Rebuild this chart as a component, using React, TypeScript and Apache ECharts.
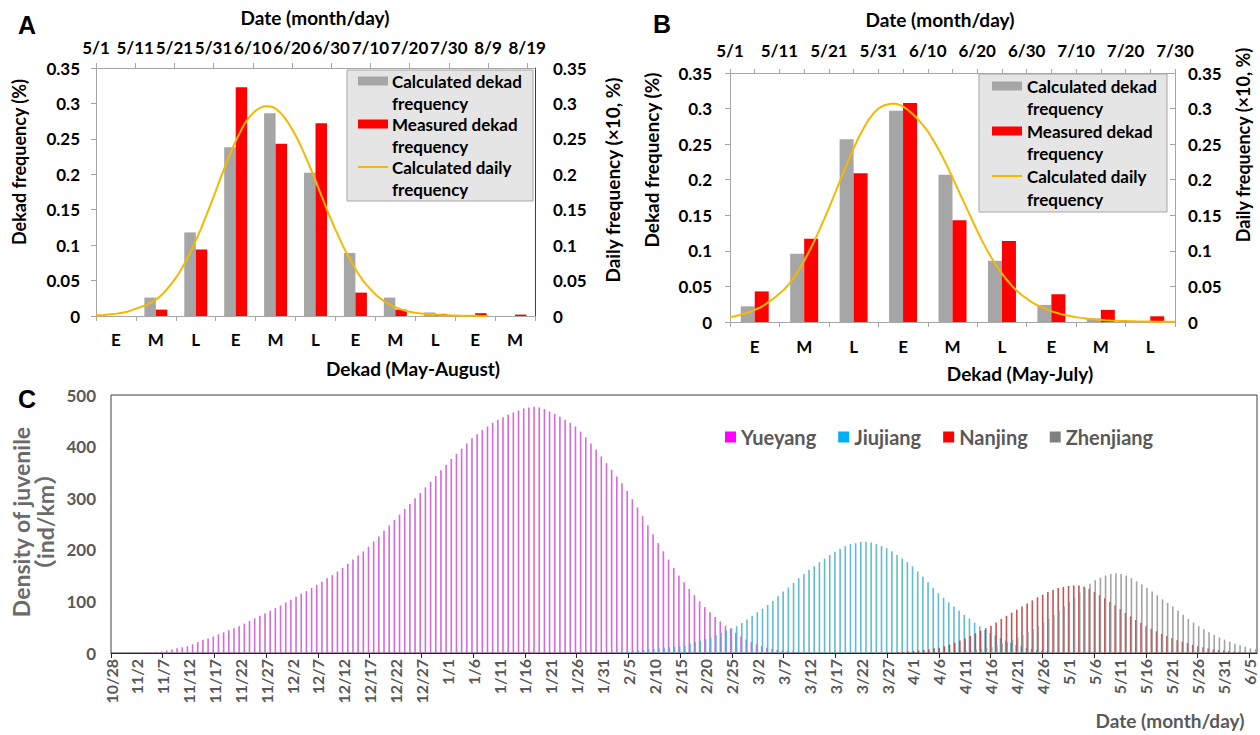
import React, { useEffect, useRef } from 'react';
import * as echarts from 'echarts';

const FONT = 'Lato, "Noto Sans", "Noto Sans CJK SC", sans-serif';

// ---------- Panel A ----------
const A_DEKADS = ['E', 'M', 'L', 'E', 'M', 'L', 'E', 'M', 'L', 'E', 'M'];
const A_CALCULATED = [0, 0.026, 0.118, 0.238, 0.286, 0.202, 0.089, 0.026, 0.005, 0, 0];
const A_MEASURED = [0, 0.009, 0.094, 0.323, 0.243, 0.272, 0.033, 0.009, 0.003, 0.004, 0.002];
const A_DATE_LABELS = ['5/1', '5/11', '5/21', '5/31', '6/10', '6/20', '6/30', '7/10', '7/20', '7/30', '8/9', '8/19'];
// daily values, index = days after 5/1
const A_DAILY = [
  0.001, 0.0012, 0.0015, 0.002, 0.0025, 0.003, 0.004, 0.005, 0.006, 0.008,
  0.010, 0.012, 0.014, 0.016, 0.019, 0.022, 0.026, 0.031, 0.037, 0.044,
  0.051, 0.059, 0.068, 0.078, 0.089, 0.101, 0.113, 0.126, 0.140, 0.154,
  0.168, 0.183, 0.198, 0.212, 0.226, 0.239, 0.251, 0.262, 0.272, 0.280,
  0.286, 0.291, 0.294, 0.296, 0.296, 0.295, 0.292, 0.287, 0.281, 0.273,
  0.264, 0.254, 0.243, 0.231, 0.218, 0.205, 0.191, 0.177, 0.163, 0.149,
  0.136, 0.123, 0.111, 0.099, 0.088, 0.078, 0.068, 0.059, 0.051, 0.044,
  0.038, 0.032, 0.027, 0.023, 0.019, 0.016, 0.013, 0.011, 0.009, 0.0075,
  0.006, 0.005, 0.0042, 0.0035, 0.0029, 0.0024, 0.002, 0.0016, 0.0013, 0.0011,
  0.0009, 0.0007, 0.0006, 0.0005, 0.0004, 0.0003, 0.0002, 0.0002, 0.0001, 0.0001, 0,
];

// ---------- Panel B ----------
const B_DEKADS = ['E', 'M', 'L', 'E', 'M', 'L', 'E', 'M', 'L'];
const B_CALCULATED = [0.022, 0.096, 0.257, 0.297, 0.207, 0.086, 0.024, 0.005, 0];
const B_MEASURED = [0.043, 0.117, 0.209, 0.308, 0.143, 0.114, 0.039, 0.017, 0.008];
const B_DATE_LABELS = ['5/1', '5/11', '5/21', '5/31', '6/10', '6/20', '6/30', '7/10', '7/20', '7/30'];
const B_DAILY = [
  0.007, 0.008, 0.010, 0.012, 0.014, 0.017, 0.020, 0.024, 0.029, 0.034,
  0.040, 0.046, 0.054, 0.063, 0.074, 0.086, 0.099, 0.113, 0.128, 0.144,
  0.160, 0.177, 0.194, 0.211, 0.228, 0.244, 0.259, 0.272, 0.284, 0.293,
  0.300, 0.304, 0.306, 0.307, 0.306, 0.303, 0.298, 0.292, 0.285, 0.277,
  0.268, 0.257, 0.245, 0.232, 0.218, 0.203, 0.188, 0.173, 0.158, 0.143,
  0.128, 0.114, 0.101, 0.089, 0.078, 0.068, 0.059, 0.051, 0.044, 0.038,
  0.033, 0.028, 0.024, 0.021, 0.018, 0.015, 0.013, 0.011, 0.0095, 0.008,
  0.0068, 0.0058, 0.0049, 0.0041, 0.0035, 0.003, 0.0025, 0.0021, 0.0018, 0.0015,
  0.0013, 0.0011, 0.0009, 0.0008, 0.0007, 0.0006, 0.0005, 0.0004, 0.0003, 0.0003, 0.0002,
];

// ---------- Panel C ----------
const C_DATE_LABELS = [
  '10/28', '11/2', '11/7', '11/12', '11/17', '11/22', '11/27', '12/2', '12/7', '12/12',
  '12/17', '12/22', '12/27', '1/1', '1/6', '1/11', '1/16', '1/21', '1/26', '1/31',
  '2/5', '2/10', '2/15', '2/20', '2/25', '3/2', '3/7', '3/12', '3/17', '3/22',
  '3/27', '4/1', '4/6', '4/11', '4/16', '4/21', '4/26', '5/1', '5/6', '5/11',
  '5/16', '5/21', '5/26', '5/31', '6/5',
];
const C_STATIONS = ['Yueyang', 'Jiujiang', 'Nanjing', 'Zhenjiang'];
// day index = days after 10/28
const YUEYANG_START = 7;
const YUEYANG = [
  1, 1, 2, 3, 5, 7, 9, 11, 13, 17, 21, 25, 28, 32, 36, 40, 44, 48, 52, 57,
  62, 67, 72, 77, 82, 87, 92, 98, 103, 109, 115, 120, 126, 132, 138, 145, 151, 158, 165, 173,
  181, 189, 197, 206, 216, 226, 237, 247, 258, 268, 279, 289, 300, 310, 321, 332, 343, 354, 365, 376,
  386, 396, 406, 416, 424, 432, 439, 446, 452, 457, 462, 466, 470, 474, 476, 477, 476, 473, 468, 463,
  458, 452, 446, 439, 429, 418, 406, 394, 381, 368, 355, 342, 329, 314, 298, 282, 265, 247, 230, 213,
  197, 181, 165, 150, 137, 124, 112, 100, 89, 79, 70, 61, 53, 47, 39, 32, 26, 21, 17, 13,
  10, 8, 6, 5, 4, 3, 2, 1,
];
const JIUJIANG_START = 98;
const JIUJIANG = [
  1, 2, 3, 4, 5, 6, 7, 8, 9, 10, 11, 12, 13, 14, 18, 21, 24, 27, 30, 35,
  39, 44, 48, 52, 58, 65, 72, 79, 86, 93, 101, 110, 119, 127, 136, 145, 153, 161, 168, 176,
  183, 190, 196, 202, 207, 211, 213, 215, 215, 214, 211, 207, 203, 197, 190, 183, 176, 168, 158, 148,
  137, 126, 116, 107, 98, 90, 82, 74, 67, 59, 52, 45, 39, 34, 29, 24, 20, 16, 13, 10,
  8, 6, 5, 4, 3, 2, 1,
];
const NANJING_START = 150;
const NANJING = [
  1, 1, 2, 2, 3, 4, 5, 6, 7, 9, 10, 13, 16, 20, 24, 28, 33, 38, 43, 48,
  53, 59, 66, 72, 78, 84, 90, 96, 102, 108, 113, 118, 122, 126, 128, 130, 131, 131, 129, 124,
  118, 112, 106, 99, 92, 85, 78, 71, 64, 58, 52, 47, 42, 37, 33, 29, 25, 22, 19, 16,
  13, 11, 9, 7, 6, 5, 4, 3, 2, 2, 1,
];
const ZHENJIANG_START = 160;
const ZHENJIANG = [
  1, 1, 2, 2, 3, 4, 5, 6, 8, 10, 12, 15, 18, 21, 25, 30, 35, 40, 46, 52,
  59, 66, 74, 82, 90, 99, 108, 117, 126, 134, 141, 146, 150, 153, 154, 153, 150, 145, 139, 133,
  126, 119, 112, 104, 97, 90, 82, 74, 66, 59, 52, 46, 40, 35, 30, 26, 22, 18, 15, 12,
  9, 7,
];

const LEGEND_A_TEXT = ['Calculated dekad', 'frequency', 'Measured dekad', 'frequency', 'Calculated daily', 'frequency'];
const SERIES_NAMES = ['Calculated dekad frequency', 'Measured dekad frequency', 'Calculated daily frequency'];

const GREY = '#a6a6a6';
const RED = '#ff0000';
const GOLD = '#f5b800';

function bold(size: number, color = '#000') {
  return { fontSize: size, fontWeight: 'bold' as const, color, fontFamily: FONT };
}

function txt(text: string, x: number, y: number, size: number, opts: any = {}) {
  return {
    type: 'text',
    x,
    y,
    rotation: opts.rotation || 0,
    style: {
      text,
      fill: opts.color || '#000',
      fontSize: size,
      fontWeight: 'bold',
      fontFamily: opts.family || FONT,
      align: opts.align || 'center',
      verticalAlign: 'middle',
      lineHeight: opts.lineHeight,
    },
  };
}

function legendGraphic(box: { x: number; y: number; w: number; h: number }, iconX: number, textX: number, rowYs: number[]) {
  const els: any[] = [
    { type: 'rect', shape: { x: box.x, y: box.y, width: box.w, height: box.h }, style: { fill: '#e5e5e5', stroke: '#a6a6a6', lineWidth: 1 } },
    { type: 'rect', shape: { x: iconX, y: rowYs[0] - 4.5, width: 30, height: 9 }, style: { fill: GREY } },
    { type: 'rect', shape: { x: iconX, y: rowYs[2] - 4.5, width: 30, height: 9 }, style: { fill: RED } },
    { type: 'line', shape: { x1: iconX, y1: rowYs[4], x2: iconX + 30, y2: rowYs[4] }, style: { stroke: GOLD, lineWidth: 2 } },
  ];
  LEGEND_A_TEXT.forEach((t, i) => els.push(txt(t, textX, rowYs[i], 17, { align: 'left' })));
  return els;
}

const A_TOP_TICKS = A_DATE_LABELS.map((_, i) => i * 10);
const B_TOP_LABEL_VALUES = B_DATE_LABELS.map((_, i) => i * 10);
const B_TOP_TICKS = B_DATE_LABELS.concat(B_DATE_LABELS.slice(1)).map((_, i) => i * 5);
const C_LABEL_VALUES = C_DATE_LABELS.map((_, i) => i * 5);
const C_TICK_VALUES = C_DATE_LABELS.filter((_, i) => i % 2 === 0).map((_, i) => i * 10);

function buildOption() {
  const lightAxis = { show: true, onZero: false, lineStyle: { color: '#a6a6a6', width: 1 } };
  const lightTick = { show: true, length: 5, lineStyle: { color: '#a6a6a6' } };

  const stationColors = ['rgba(204,80,214,0.85)', 'rgba(70,175,205,0.85)', 'rgba(185,55,55,0.85)', 'rgba(140,140,140,0.8)'];
  const legendColors = ['#ff00ff', '#00b0f0', '#ff0000', '#808080'];
  const stationData = [
    [YUEYANG_START, YUEYANG],
    [JIUJIANG_START, JIUJIANG],
    [NANJING_START, NANJING],
    [ZHENJIANG_START, ZHENJIANG],
  ] as [number, number[]][];

  return {
    animation: false,
    backgroundColor: '#ffffff',
    textStyle: { fontFamily: FONT },
    grid: [
      { left: 96, top: 68, width: 439, height: 248 },
      { left: 730, top: 73, width: 445, height: 249 },
      { left: 111, top: 395, width: 1146, height: 258, show: true, borderColor: '#404040', borderWidth: 1, backgroundColor: 'rgba(0,0,0,0)' },
    ],
    xAxis: [
      {
        type: 'category', gridIndex: 0, position: 'bottom', data: A_DEKADS,
        axisLine: lightAxis, axisTick: lightTick,
        axisLabel: { ...bold(17), margin: 15 }, splitLine: { show: false },
      },
      {
        type: 'value', gridIndex: 0, position: 'top', min: 0, max: 112,
        axisLine: lightAxis,
        axisTick: { ...lightTick, customValues: A_TOP_TICKS },
        axisLabel: { ...bold(17), margin: 12, customValues: A_TOP_TICKS, formatter: (v: number) => A_DATE_LABELS[Math.round(v / 10)] ?? '' },
        splitLine: { show: false },
      },
      {
        type: 'category', gridIndex: 1, position: 'bottom', data: B_DEKADS,
        axisLine: lightAxis, axisTick: lightTick,
        axisLabel: { ...bold(17), margin: 16 }, splitLine: { show: false },
      },
      {
        type: 'value', gridIndex: 1, position: 'top', min: 0, max: 90,
        axisLine: lightAxis,
        axisTick: { ...lightTick, length: 4, customValues: B_TOP_TICKS },
        axisLabel: { ...bold(17), margin: 14, customValues: B_TOP_LABEL_VALUES, formatter: (v: number) => B_DATE_LABELS[Math.round(v / 10)] ?? '' },
        splitLine: { show: false },
      },
      {
        type: 'value', gridIndex: 2, position: 'bottom', min: 0, max: 221.5,
        axisLine: { show: true, onZero: false, lineStyle: { color: '#262626', width: 1.2 } },
        axisTick: { show: true, length: 5, customValues: C_TICK_VALUES, lineStyle: { color: '#262626' } },
        axisLabel: {
          ...bold(16, '#595959'), rotate: 90, margin: 6, customValues: C_LABEL_VALUES,
          formatter: (v: number) => C_DATE_LABELS[Math.round(v / 5)] ?? '',
        },
        splitLine: { show: false },
      },
    ],
    yAxis: [
      {
        type: 'value', gridIndex: 0, position: 'left', min: 0, max: 0.35, interval: 0.05,
        axisLine: lightAxis, axisTick: lightTick, axisLabel: { ...bold(17), margin: 16 }, splitLine: { show: false },
      },
      {
        type: 'value', gridIndex: 0, position: 'right', min: 0, max: 0.35, interval: 0.05,
        axisLine: { show: true, onZero: false, lineStyle: { color: '#404040' } }, axisTick: { show: false },
        axisLabel: { ...bold(17), margin: 18 }, splitLine: { show: false },
      },
      {
        type: 'value', gridIndex: 1, position: 'left', min: 0, max: 0.35, interval: 0.05,
        axisLine: lightAxis, axisTick: lightTick, axisLabel: { ...bold(17), margin: 18 }, splitLine: { show: false },
      },
      {
        type: 'value', gridIndex: 1, position: 'right', min: 0, max: 0.35, interval: 0.05,
        axisLine: lightAxis, axisTick: { show: true, inside: true, length: 5, lineStyle: { color: '#a6a6a6' } },
        axisLabel: { ...bold(17), margin: 13 }, splitLine: { show: false },
      },
      {
        type: 'value', gridIndex: 2, position: 'left', min: 0, max: 500, interval: 100,
        axisLine: { show: false }, axisTick: { show: false },
        axisLabel: { ...bold(17, '#595959'), margin: 15 }, splitLine: { show: false },
      },
    ],
    legend: {
      data: C_STATIONS.map((n, i) => ({ name: n, itemStyle: { color: legendColors[i] } })),
      left: 720, top: 422, itemWidth: 11, itemHeight: 11, itemGap: 22, icon: 'rect',
      textStyle: { ...bold(20, '#595959'), padding: [0, 0, 0, 0] },
    },
    series: [
      { type: 'bar', name: SERIES_NAMES[0], xAxisIndex: 0, yAxisIndex: 0, data: A_CALCULATED, barWidth: 11.5, barGap: '0%', itemStyle: { color: GREY } },
      { type: 'bar', name: SERIES_NAMES[1], xAxisIndex: 0, yAxisIndex: 0, data: A_MEASURED, barWidth: 11.5, barGap: '0%', itemStyle: { color: RED } },
      {
        type: 'line', name: SERIES_NAMES[2], xAxisIndex: 1, yAxisIndex: 1,
        data: A_DAILY.map((v, i) => [i, v]), showSymbol: false, symbol: 'none',
        lineStyle: { color: GOLD, width: 2 }, itemStyle: { color: GOLD }, z: 5,
      },
      { type: 'bar', name: SERIES_NAMES[0], xAxisIndex: 2, yAxisIndex: 2, data: B_CALCULATED, barWidth: 14, barGap: '0%', itemStyle: { color: GREY } },
      { type: 'bar', name: SERIES_NAMES[1], xAxisIndex: 2, yAxisIndex: 2, data: B_MEASURED, barWidth: 14, barGap: '0%', itemStyle: { color: RED } },
      {
        type: 'line', name: SERIES_NAMES[2], xAxisIndex: 3, yAxisIndex: 3,
        data: B_DAILY.map((v, i) => [i, v]), showSymbol: false, symbol: 'none',
        lineStyle: { color: GOLD, width: 2 }, itemStyle: { color: GOLD }, z: 5,
      },
      ...stationData.map(([start, vals], k) => ({
        type: 'bar', name: C_STATIONS[k], xAxisIndex: 4, yAxisIndex: 4,
        data: vals.map((v, i) => [start + i, v]),
        barWidth: 1.6, barGap: '-50%',
        itemStyle: { color: stationColors[k] },
      })),
    ],
    graphic: [
      txt('A', 27, 25, 25, { family: '"Liberation Sans", Arial, sans-serif' }),
      txt('B', 662, 24, 25, { family: '"Liberation Sans", Arial, sans-serif' }),
      txt('C', 27, 399, 25, { family: '"Liberation Sans", Arial, sans-serif' }),
      txt('Date (month/day)', 315, 17, 19),
      txt('Dekad frequency (%)', 19, 162, 18, { rotation: Math.PI / 2 }),
      txt('Daily frequency (×10, %)', 612, 180, 19, { rotation: Math.PI / 2 }),
      txt('Dekad (May-August)', 413, 368, 19),
      txt('Date (month/day)', 940, 19, 19),
      txt('Dekad frequency (%)', 651, 160, 19, { rotation: Math.PI / 2 }),
      txt('Daily frequency (×10, %)', 1243, 145, 18, { rotation: Math.PI / 2 }),
      txt('Dekad (May-July)', 1020, 373, 19),
      ...legendGraphic({ x: 347, y: 70, w: 186, h: 131 }, 358, 392, [81, 103, 124, 146, 167, 189]),
      ...legendGraphic({ x: 979, y: 74, w: 188, h: 138 }, 992, 1027, [86, 108, 131, 153, 176, 199]),
      txt('Density of juvenile\n（ind/km）', 33, 522, 23, { rotation: Math.PI / 2, color: '#6b6b6b', lineHeight: 24 }),
      txt('Date (month/day)', 1170, 720, 19, { color: '#595959' }),
    ],
  };
}

export default function App() {
  const ref = useRef<HTMLDivElement>(null);
  useEffect(() => {
    document.body.style.margin = '0';
    if (!ref.current) return;
    const chart = echarts.init(ref.current, undefined, { renderer: 'svg' });
    chart.setOption(buildOption() as any);
    return () => chart.dispose();
  }, []);
  return <div ref={ref} style={{ width: 1260, height: 735 }} />;
}
